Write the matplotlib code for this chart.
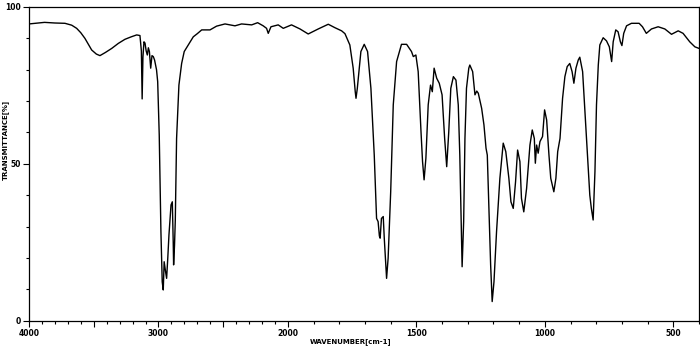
import numpy as np
import matplotlib
matplotlib.use("Agg")
import matplotlib.pyplot as plt
from matplotlib.ticker import FixedLocator, FixedFormatter

wavenumber = [4000, 3950, 3880, 3800, 3722, 3670, 3632, 3600, 3568, 3516, 3480, 3452, 3410, 3361, 3310,
              3259, 3210, 3168, 3143, 3132, 3126, 3120, 3112, 3104, 3095, 3086, 3078, 3070, 3060, 3050,
              3040, 3030, 3015, 3006, 2994, 2981, 2971, 2963, 2956, 2950, 2945, 2937, 2928, 2919, 2903,
              2893, 2886, 2883, 2876, 2870, 2860, 2842, 2821, 2801, 2770, 2731, 2700, 2666, 2602, 2551,
              2486, 2409, 2358, 2280, 2234, 2191, 2165, 2152, 2131, 2075, 2036, 1986, 1953, 1921, 1882,
              1843, 1817, 1791, 1778, 1759, 1746, 1738, 1735, 1730, 1726, 1716, 1703, 1690, 1677, 1664,
              1655, 1649, 1644, 1641, 1636, 1629, 1625, 1616, 1610, 1600, 1590, 1577, 1558, 1538, 1519,
              1512, 1502, 1493, 1482, 1476, 1470, 1463, 1454, 1445, 1438, 1431, 1421, 1411, 1400, 1390,
              1382, 1374, 1366, 1356, 1346, 1337, 1331, 1324, 1322, 1316, 1311, 1305, 1296, 1292, 1281,
              1272, 1265, 1259, 1246, 1237, 1229, 1224, 1218, 1211, 1205, 1198, 1188, 1175, 1162, 1152,
              1140, 1132, 1123, 1114, 1106, 1097, 1091, 1082, 1071, 1058, 1049, 1041, 1037, 1032, 1026,
              1019, 1009, 1001, 993, 984, 977, 965, 957, 950, 941, 931, 922, 913, 903, 894,
              887, 879, 870, 864, 853, 844, 835, 825, 819, 812, 805, 799, 792, 786, 773,
              760, 749, 740, 734, 724, 715, 706, 700, 693, 682, 663, 633, 620, 605, 585,
              559, 533, 507, 481, 462, 436, 416, 400]
transmittance = [94.6, 94.8, 95.1, 94.9, 94.8, 94.2, 93.2, 91.8, 90.0, 86.3, 85.0, 84.5, 85.5, 86.8, 88.4,
                 89.7, 90.5, 91.1, 90.9, 86.0, 70.7, 84.0, 88.9, 88.5, 86.0, 84.7, 87.0, 85.8, 80.5, 84.5,
                 84.2, 83.1, 80.0, 76.2, 59.2, 28.4, 12.4, 9.8, 18.8, 17.0, 15.6, 13.5, 20.0, 27.3, 36.9,
                 37.9, 25.0, 17.8, 24.0, 32.0, 58.1, 75.1, 82.0, 85.8, 87.9, 90.5, 91.5, 92.7, 92.7, 93.9,
                 94.6, 94.0, 94.6, 94.3, 95.0, 94.0, 93.2, 91.6, 93.7, 94.3, 93.2, 94.3, 93.0, 91.4, 93.0,
                 94.5, 93.4, 92.4, 91.5, 87.9, 80.5, 73.0, 70.9, 74.0, 77.3, 85.8, 88.1, 85.8, 74.1, 52.8,
                 32.6, 31.6, 27.0, 26.3, 32.6, 33.2, 26.3, 13.5, 19.9, 41.1, 68.8, 82.6, 88.1, 88.1, 85.8,
                 84.2, 84.7, 79.4, 60.2, 50.7, 44.9, 51.8, 68.8, 75.1, 73.0, 80.5, 77.3, 75.7, 72.0, 58.1,
                 49.1, 60.2, 74.1, 77.8, 76.7, 68.8, 52.8, 26.3, 17.2, 31.6, 58.1, 74.1, 80.5, 81.5, 79.4,
                 72.0, 73.2, 72.5, 67.7, 62.4, 55.0, 52.8, 36.9, 17.8, 6.1, 12.4, 28.4, 45.4, 56.6, 53.9,
                 45.4, 37.9, 35.8, 44.3, 54.4, 50.7, 39.0, 34.7, 42.2, 56.0, 60.8, 58.1, 50.2, 56.0, 53.4,
                 57.1, 58.7, 67.2, 64.0, 52.8, 45.4, 41.1, 45.4, 53.9, 58.1, 70.9, 77.8, 81.0, 82.0, 79.4,
                 75.7, 80.5, 83.1, 84.0, 79.4, 66.6, 53.9, 40.0, 35.8, 32.1, 47.5, 68.8, 81.5, 87.9, 90.2,
                 89.2, 87.3, 82.6, 88.9, 92.7, 92.1, 88.9, 87.7, 91.6, 94.0, 94.8, 94.8, 93.7, 91.6, 93.0,
                 93.7, 93.0, 91.3, 92.4, 91.6, 88.9, 87.3, 86.8]

xtick_values = [4000, 3500, 3000, 2500, 2000, 1500, 1000, 500]
xtick_labels = ["4000", "", "3000", "", "2000", "1500", "1000", "500"]
ytick_values = [0, 50, 100]
ytick_labels = ["0", "50", "100"]


def forward(wn):
    wn = np.asarray(wn, dtype=float)
    pos = np.where(wn >= 2000, (4000 - wn) * 0.1295, 259 + (2000 - wn) * 0.257)
    return -pos


def inverse(p):
    p = -np.asarray(p, dtype=float)
    return np.where(p <= 259, 4000 - p / 0.1295, 2000 - (p - 259) / 0.257)


fig = plt.figure(figsize=(7.0, 3.49), dpi=100)
ax = fig.add_axes([29 / 700, (349 - 320.7) / 349, 670 / 700, (320.7 - 7) / 349])
ax.set_xscale("function", functions=(forward, inverse))
ax.plot(wavenumber, transmittance, color="black", lw=1.0)
ax.set_xlim(4000, 400)
ax.set_ylim(0, 100)

ax.xaxis.set_major_locator(FixedLocator(xtick_values))
ax.xaxis.set_major_formatter(FixedFormatter(xtick_labels))
ax.xaxis.set_minor_locator(FixedLocator(list(range(400, 4001, 100))))
ax.yaxis.set_major_locator(FixedLocator(ytick_values))
ax.yaxis.set_major_formatter(FixedFormatter(ytick_labels))
ax.yaxis.set_minor_locator(FixedLocator(list(range(0, 101, 10))))

ax.tick_params(axis="both", which="major", direction="out", length=4, width=0.8,
               labelsize=5.5, pad=2)
ax.tick_params(axis="both", which="minor", direction="out", length=2.5, width=0.8)
for lbl in ax.get_xticklabels() + ax.get_yticklabels():
    lbl.set_fontweight("bold")
for sp in ax.spines.values():
    sp.set_linewidth(0.9)

fig.text(351 / 700, 1 - 341.5 / 349, "WAVENUMBER[cm-1]", fontsize=5, fontweight="bold",
         ha="center", va="center")
fig.text(5 / 700, 1 - 140 / 349, "TRANSMITTANCE[%]", fontsize=5, fontweight="bold",
         ha="center", va="center", rotation=90)

fig.savefig("out.png", dpi=100)
